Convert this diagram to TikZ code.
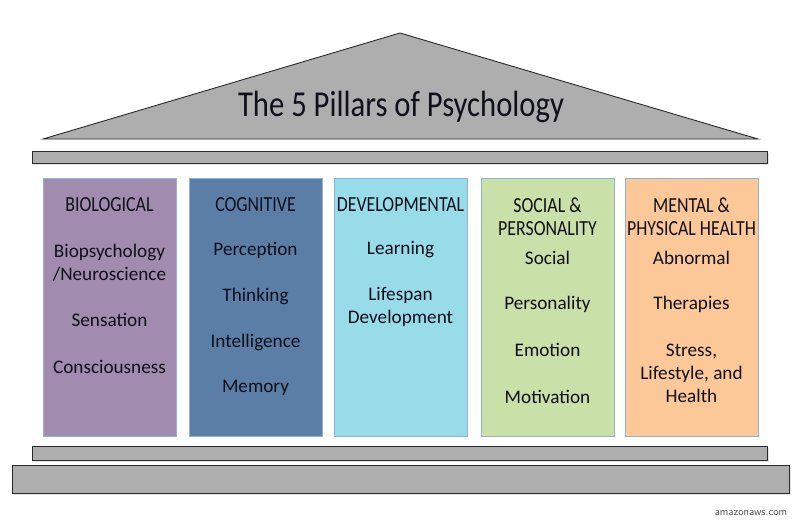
\documentclass[tikz,border=0pt]{standalone}
\usepackage{fontspec}
\setmainfont{Carlito}
\usepackage{graphicx}
\definecolor{beam}{HTML}{AEAEAE}
\definecolor{edge}{HTML}{2B2B2B}
\definecolor{pbio}{HTML}{A18BAF}
\definecolor{pcog}{HTML}{5B7EA7}
\definecolor{pdev}{HTML}{98DBE9}
\definecolor{psoc}{HTML}{C9E0A8}
\definecolor{pmen}{HTML}{FCC898}
\definecolor{pline}{HTML}{8FB2DA}
\definecolor{ink}{HTML}{10101A}
\begin{document}
\begin{tikzpicture}[x=1pt,y=-1pt,
  beamstyle/.style={draw=edge,line width=0.9pt,fill=beam},
  pillar/.style={draw=pline,line width=0.6pt,minimum width=133pt,minimum height=258pt,inner sep=0pt,anchor=north west},
  head/.style={inner sep=0pt,text=ink,font=\fontsize{21.5}{23}\selectfont,align=center},
  item/.style={inner sep=0pt,text=ink,font=\fontsize{19.2}{23}\selectfont,align=center},
  shadowc/.style={fill=black,opacity=0.10}]
\useasboundingbox (0,0) rectangle (800,528);
% shadows
\fill[shadowc] (34,153) rectangle (769,165);
\fill[shadowc] (34,448) rectangle (769,462);
\fill[shadowc] (14,467) rectangle (791,495);
% roof
\draw[beamstyle] (43,139) -- (400,33) -- (758,139) -- cycle;
\node[inner sep=0pt,text=ink,font=\fontsize{36.5}{36}\selectfont] (title) at (401,107) {\scalebox{0.84}[1]{The 5 Pillars of Psychology}};
% beams
\node[beamstyle,minimum width=735pt,minimum height=12pt,inner sep=0pt,anchor=north west] (topbeam) at (32,151) {};
\node[beamstyle,minimum width=735pt,minimum height=14pt,inner sep=0pt,anchor=north west] (lowbeam) at (32,446) {};
\node[beamstyle,minimum width=777pt,minimum height=28pt,inner sep=0pt,anchor=north west] (base) at (12,465) {};
% pillars
\node[pillar,fill=pbio] (p1) at (43,178) {};
\node[pillar,fill=pcog] (p2) at (189,178) {};
\node[pillar,fill=pdev] (p3) at (334,178) {};
\node[pillar,fill=psoc] (p4) at (481,178) {};
\node[pillar,fill=pmen] (p5) at (625,178) {};
% pillar 1
\node[head] (h1) at (109.5,205) {\scalebox{0.83}[1]{BIOLOGICAL}};
\node[item] (b1) at (109.5,263) {Biopsychology\\/Neuroscience};
\node[item] (b2) at (109.5,320) {Sensation};
\node[item] (b3) at (109.5,367) {Consciousness};
% pillar 2
\node[head] (h2) at (255.5,205) {\scalebox{0.83}[1]{COGNITIVE}};
\node[item] (c1) at (255.5,250) {Perception};
\node[item] (c2) at (255.5,296) {Thinking};
\node[item] (c3) at (255.5,342) {Intelligence};
\node[item] (c4) at (255.5,388) {Memory};
% pillar 3
\node[head] (h3) at (400.5,205) {\scalebox{0.83}[1]{DEVELOPMENTAL}};
\node[item] (d1) at (400.5,250) {Learning};
\node[item] (d2) at (400.5,307) {Lifespan\\Development};
% pillar 4
\node[head] (h4) at (547.5,216.5) {\scalebox{0.83}[1]{SOCIAL \&}\\\scalebox{0.83}[1]{PERSONALITY}};
\node[item] (s1) at (547.5,258) {Social};
\node[item] (s2) at (547.5,304) {Personality};
\node[item] (s3) at (547.5,350) {Emotion};
\node[item] (s4) at (547.5,397) {Motivation};
% pillar 5
\node[head] (h5) at (691.5,216.5) {\scalebox{0.83}[1]{MENTAL \&}\\\scalebox{0.83}[1]{PHYSICAL HEALTH}};
\node[item] (m1) at (691.5,258) {Abnormal};
\node[item] (m2) at (691.5,304) {Therapies};
\node[item] (m3) at (691.5,373) {Stress,\\Lifestyle, and\\Health};
% watermark
\node[inner sep=0pt,text=black!70,font=\sffamily\fontsize{11}{11}\selectfont] (wm) at (751,513) {amazonaws.com};
\end{tikzpicture}
\end{document}
